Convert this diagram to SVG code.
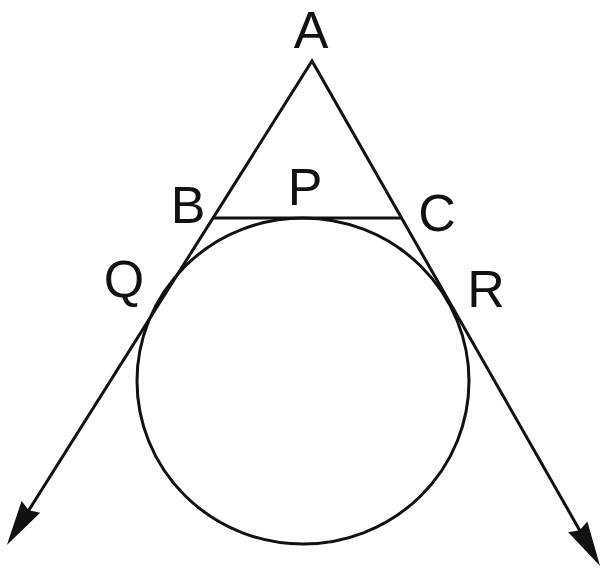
<svg xmlns="http://www.w3.org/2000/svg" width="602" height="572" viewBox="0 0 602 572">
  <style>
    .ln { fill: none; stroke: #111; stroke-width: 3; stroke-linejoin: miter; }
    .lbl { font-family: "Liberation Sans", Arial, sans-serif; font-size: 52px; fill: #111; text-anchor: middle; }
  </style>
  <defs>
    <marker id="arrow" markerUnits="userSpaceOnUse" viewBox="-20 -15 55 30" markerWidth="55" markerHeight="30" refX="0" refY="0" orient="auto-start-reverse">
      <path d="M30,0 L-15,-11 L-11,0 L-15,11 Z" fill="#111"/>
    </marker>
  </defs>
  <rect width="602" height="572" fill="#fff"/>
  <g id="circle">
    <ellipse cx="303" cy="381" rx="166" ry="163" class="ln"/>
  </g>
  <g id="connectors">
    <path id="tangents" class="ln" d="M22.9,519.6 L312,61 L585.2,539.9" marker-start="url(#arrow)" marker-end="url(#arrow)"/>
    <line id="BC" class="ln" x1="213.5" y1="218" x2="401" y2="218" stroke-width="3.5"/>
  </g>
  <g id="labels">
    <text id="A" class="lbl" x="311" y="48">A</text>
    <text id="B" class="lbl" x="188" y="223">B</text>
    <text id="P" class="lbl" x="305" y="205">P</text>
    <text id="C" class="lbl" x="437" y="231">C</text>
    <text id="Q" class="lbl" x="124" y="297">Q</text>
    <text id="R" class="lbl" x="486" y="307">R</text>
  </g>
</svg>
